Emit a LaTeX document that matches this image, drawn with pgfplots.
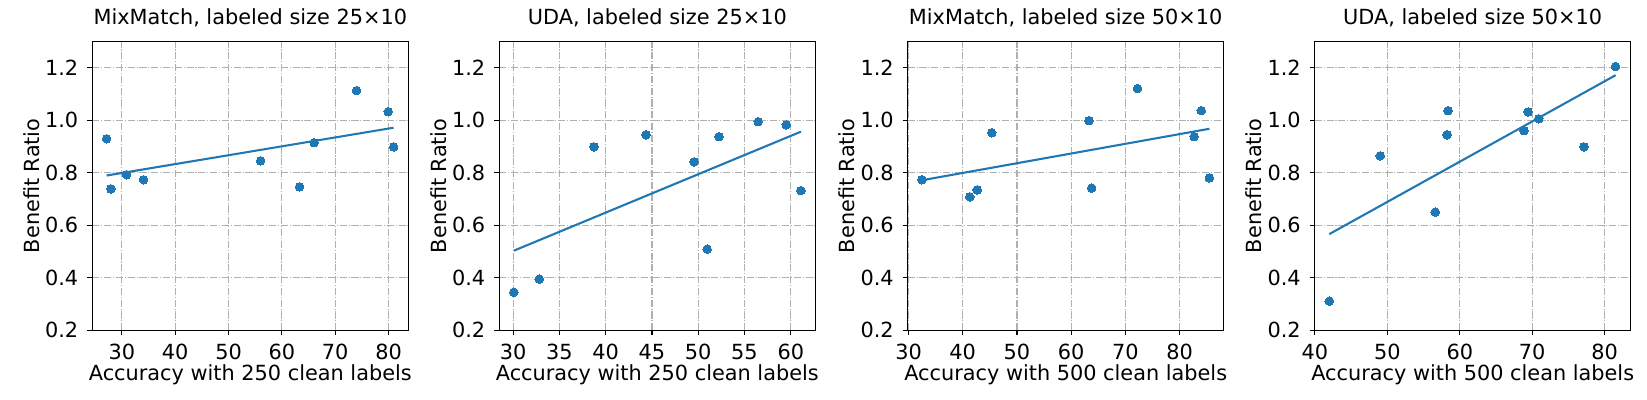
\documentclass[border=0pt]{standalone}
\usepackage{fontspec}
\setmainfont{DejaVu Sans}
\usepackage{pgfplots}
\pgfplotsset{compat=1.18}
\definecolor{mplblue}{HTML}{1F77B4}
\definecolor{gridgray}{HTML}{B0B0B0}
\pgfplotsset{
  panel/.style={
    scale only axis, width=227.5pt, height=208.1pt,
    ymin=0.2, ymax=1.3, ytick={0.2,0.4,0.6,0.8,1.0,1.2},
    font=\fontsize{15}{18}\selectfont,
    /pgf/number format/assume math mode=true,
    xticklabel style={anchor=base, yshift=-17.3pt},
    yticklabel style={anchor=east, xshift=-3.1pt, /pgf/number format/fixed, /pgf/number format/fixed zerofill, /pgf/number format/precision=1},
    grid=major,
    major grid style={gridgray, line width=0.8pt, dash pattern=on 5.12pt off 1.28pt on 0.8pt off 1.28pt},
    tick align=outside, major tick length=3.5pt,
    tick style={black, line width=0.8pt},
    axis line style={line width=0.8pt},
    tick pos=left,
    ylabel={Benefit Ratio},
    xlabel style={at={(axis description cs:0.5,-0.1754)}, anchor=base},
    ylabel style={at={(axis description cs:-0.1677,0.5)}, anchor=base},
    title style={at={(axis description cs:0.5,1.0298)}, anchor=base},
  },
  dots/.style={mplblue, only marks, mark=*, mark size=3.1pt, mark options={solid, fill=mplblue, draw=mplblue, line width=0pt}},
  fit/.style={mplblue, line width=1.5pt, no marks},
}
\begin{document}
\begin{tikzpicture}
% Panel 1
\begin{axis}[panel, at={(0pt,0pt)}, anchor=south west,
  xmin=24.45, xmax=83.7, xtick={30,40,50,60,70,80},
  title={MixMatch, labeled size 25×10},
  xlabel={Accuracy with 250 clean labels}]
\addplot[fit] coordinates {(27.13,0.789) (80.94,0.971)};
\addplot[dots] coordinates {
(27.13,0.929) (27.94,0.738) (30.88,0.792) (34.06,0.773) (56.0,0.845)
(63.31,0.746) (66.06,0.914) (74.0,1.112) (79.94,1.032) (80.94,0.898)};
\end{axis}
% Panel 2
\begin{axis}[panel, at={(293.04pt,0pt)}, anchor=south west,
  xmin=28.5, xmax=62.65, xtick={30,35,40,45,50,55,60},
  title={UDA, labeled size 25×10},
  xlabel={Accuracy with 250 clean labels}]
\addplot[fit] coordinates {(30.07,0.503) (61.1,0.956)};
\addplot[dots] coordinates {
(30.07,0.345) (32.81,0.395) (38.73,0.898) (44.36,0.944) (49.55,0.841)
(50.96,0.509) (52.26,0.937) (56.48,0.994) (59.51,0.982) (61.1,0.732)};
\end{axis}
% Panel 3
\begin{axis}[panel, at={(587.09pt,0pt)}, anchor=south west,
  xmin=29.85, xmax=88.13, xtick={30,40,50,60,70,80},
  title={MixMatch, labeled size 50×10},
  xlabel={Accuracy with 500 clean labels}]
\addplot[fit] coordinates {(32.46,0.771) (85.5,0.967)};
\addplot[dots] coordinates {
(32.46,0.773) (41.30,0.708) (42.65,0.734) (45.36,0.952) (63.29,0.998)
(63.78,0.741) (72.26,1.120) (82.7,0.937) (84.0,1.036) (85.5,0.780)};
\end{axis}
% Panel 4
\begin{axis}[panel, at={(880.13pt,0pt)}, anchor=south west,
  xmin=39.97, xmax=83.6, xtick={40,50,60,70,80},
  title={UDA, labeled size 50×10},
  xlabel={Accuracy with 500 clean labels}]
\addplot[fit] coordinates {(41.98,0.566) (81.52,1.171)};
\addplot[dots] coordinates {
(41.98,0.311) (49.01,0.864) (56.60,0.650) (58.25,0.944) (58.39,1.036)
(68.87,0.960) (69.43,1.031) (70.90,1.005) (77.15,0.898) (81.52,1.204)};
\end{axis}
\pgfresetboundingbox
\path[use as bounding box] (-66.46pt,-50.18pt) rectangle (1119.38pt,237.82pt);
\end{tikzpicture}
\end{document}
